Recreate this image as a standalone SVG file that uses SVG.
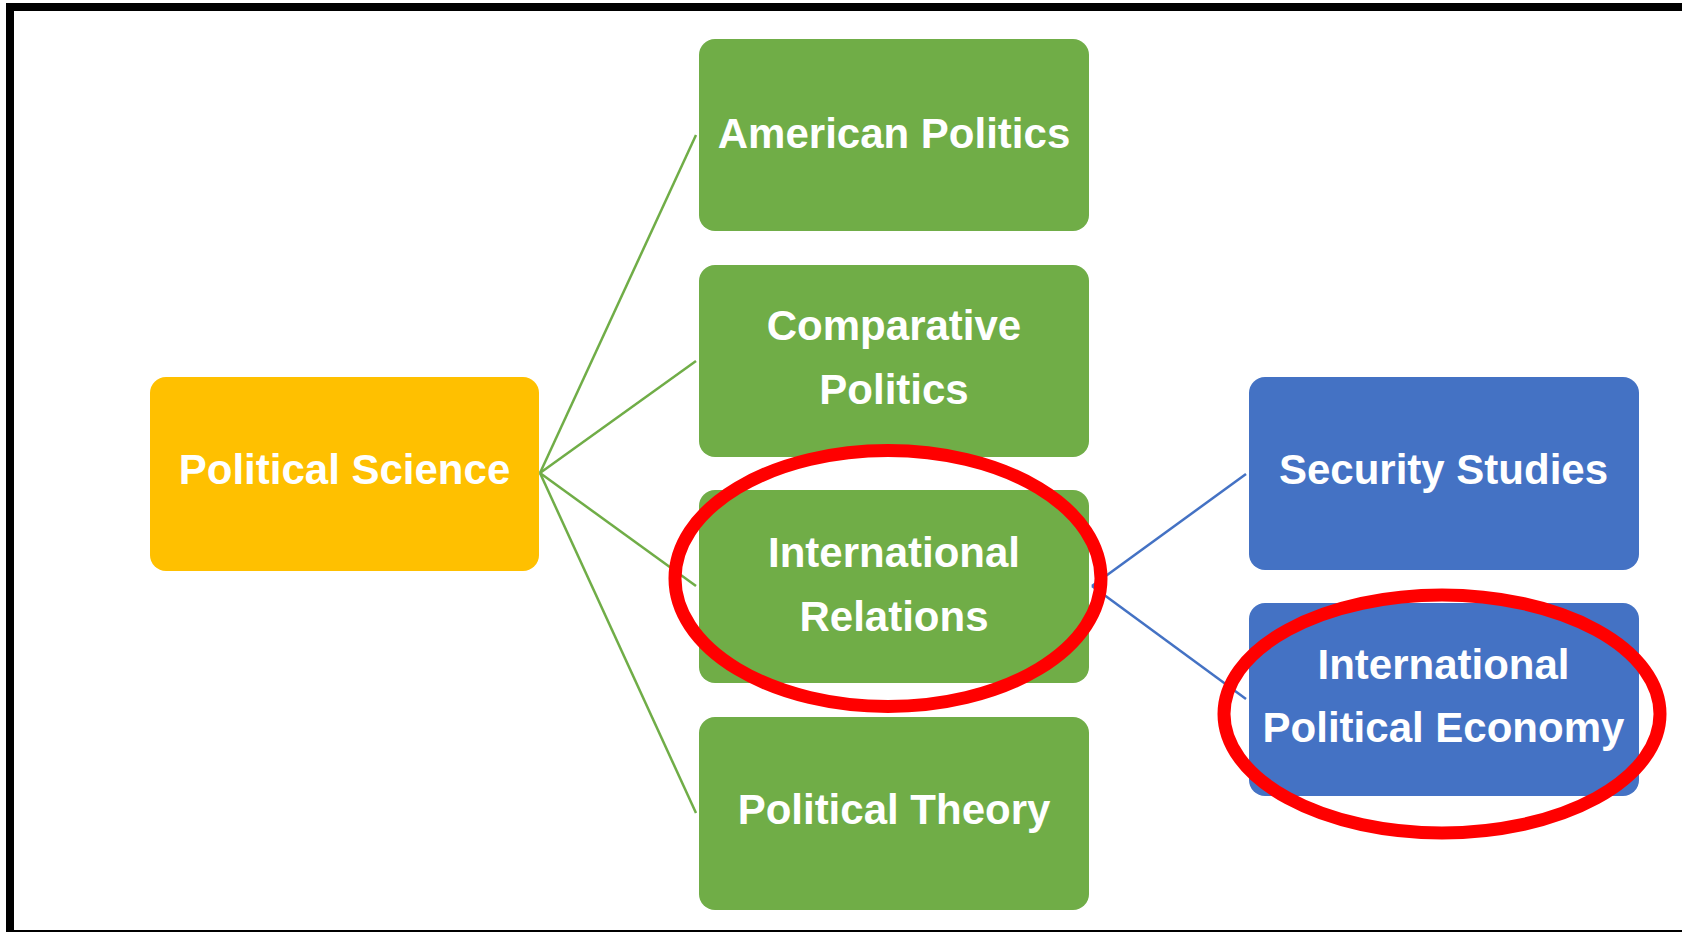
<svg xmlns="http://www.w3.org/2000/svg" width="1682" height="932" viewBox="0 0 1682 932">
<style>
.box{stroke:none}
.g{fill:#70AD47}
.o{fill:#FFC000}
.b{fill:#4472C4}
.t{font-family:"Liberation Sans",Arial,sans-serif;font-weight:bold;font-size:42px;fill:#FFFFFF;text-anchor:middle}
.lg{stroke:#70AD47;stroke-width:2.5;fill:none}
.lb{stroke:#4472C4;stroke-width:2.5;fill:none}
.hl{fill:none;stroke:#FF0000;stroke-width:13}
</style>
<rect x="0" y="0" width="1682" height="932" fill="#FFFFFF"/>
<g id="frame" fill="#000000">
<rect x="6" y="3" width="1676" height="8"/>
<rect x="6" y="3" width="8" height="929"/>
<rect x="6" y="930" width="1676" height="2"/>
</g>
<g id="connectors">
<line class="lg" x1="540" y1="473" x2="696" y2="135"/>
<line class="lg" x1="540" y1="473" x2="696" y2="361"/>
<line class="lg" x1="540" y1="473" x2="696" y2="586"/>
<line class="lg" x1="540" y1="473" x2="696" y2="813"/>
<line class="lb" x1="1092" y1="586" x2="1246" y2="474"/>
<line class="lb" x1="1092" y1="586" x2="1246" y2="699"/>
</g>
<g id="political-science">
<rect class="box o" x="150" y="377" width="389" height="194" rx="16"/>
<text class="t" x="344.5" y="484">Political Science</text>
</g>
<g id="american-politics">
<rect class="box g" x="699" y="39" width="390" height="192" rx="16"/>
<text class="t" x="894" y="148">American Politics</text>
</g>
<g id="comparative-politics">
<rect class="box g" x="699" y="265" width="390" height="192" rx="16"/>
<text class="t" x="894" y="340">Comparative</text>
<text class="t" x="894" y="404">Politics</text>
</g>
<g id="international-relations">
<rect class="box g" x="699" y="490" width="390" height="193" rx="16"/>
<text class="t" x="894" y="567">International</text>
<text class="t" x="894" y="631">Relations</text>
</g>
<g id="political-theory">
<rect class="box g" x="699" y="717" width="390" height="193" rx="16"/>
<text class="t" x="894" y="824">Political Theory</text>
</g>
<g id="security-studies">
<rect class="box b" x="1249" y="377" width="390" height="193" rx="16"/>
<text class="t" x="1443.5" y="484">Security Studies</text>
</g>
<g id="international-political-economy">
<rect class="box b" x="1249" y="603" width="390" height="193" rx="16"/>
<text class="t" x="1443.5" y="679">International</text>
<text class="t" x="1443.5" y="742">Political Economy</text>
</g>
<g id="highlights">
<ellipse class="hl" cx="888" cy="578.5" rx="213" ry="128"/>
<ellipse class="hl" cx="1442" cy="714" rx="218" ry="119"/>
</g>
</svg>
